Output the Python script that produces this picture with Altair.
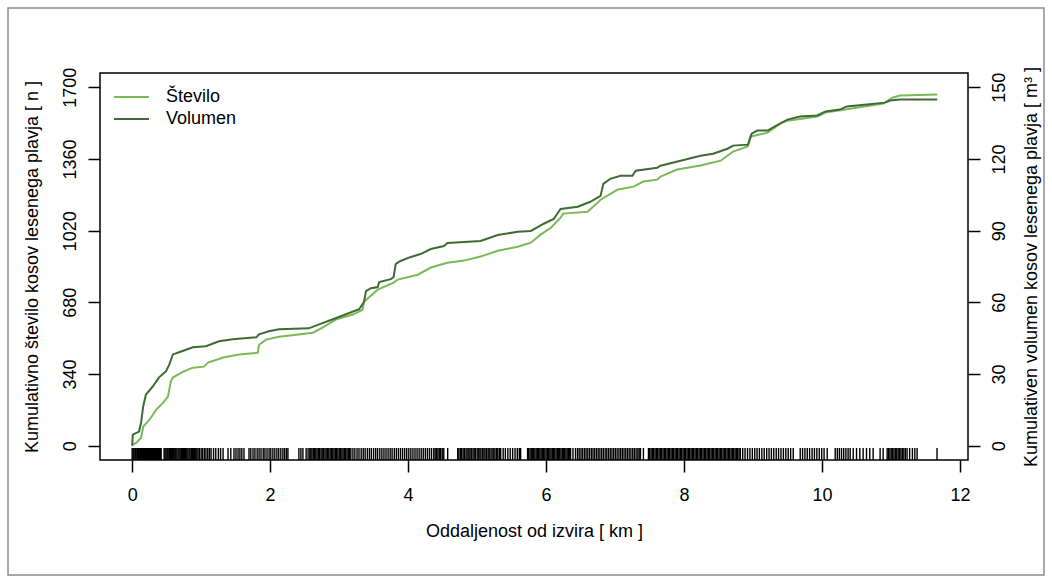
import altair as alt
import pandas as pd

# ---- data ----
# cumulative number of pieces (Število) vs distance [km]
dist_n = [0.00, 0.01, 0.06, 0.13, 0.16, 0.25, 0.35, 0.45, 0.52, 0.56, 0.59, 0.74, 0.88, 1.04, 1.10,
          1.32, 1.55, 1.82, 1.84, 1.94, 2.13, 2.62, 2.76, 2.95, 3.20, 3.34, 3.36, 3.56, 3.79, 3.85,
          4.14, 4.33, 4.57, 4.81, 5.05, 5.30, 5.59, 5.78, 5.92, 6.07, 6.21, 6.25, 6.60, 6.75, 6.79,
          7.04, 7.27, 7.41, 7.61, 7.66, 7.90, 8.24, 8.53, 8.71, 8.92, 8.96, 9.21, 9.42, 9.50, 9.93,
          10.05, 10.89, 11.02, 11.13, 11.67]
count_n = [0, 5, 14, 38, 90, 123, 171, 204, 233, 304, 323, 351, 370, 375, 394,
           418, 432, 441, 479, 503, 517, 536, 560, 598, 622, 645, 683, 740, 773, 788,
           811, 845, 868, 878, 897, 925, 944, 963, 1001, 1034, 1082, 1101, 1110, 1153, 1167,
           1215, 1229, 1253, 1262, 1276, 1310, 1329, 1352, 1395, 1419, 1466, 1485, 1533, 1542, 1561,
           1580, 1623, 1651, 1661, 1666]

# cumulative volume (Volumen) vs distance [km]
dist_v = [0.00, 0.01, 0.10, 0.13, 0.16, 0.20, 0.30, 0.39, 0.49, 0.54, 0.59, 0.68, 0.88, 1.07, 1.26,
          1.46, 1.80, 1.84, 1.98, 2.13, 2.56, 2.71, 2.91, 3.10, 3.29, 3.36, 3.39, 3.46, 3.56, 3.58,
          3.75, 3.79, 3.82, 3.89, 4.04, 4.18, 4.33, 4.52, 4.57, 4.81, 5.05, 5.30, 5.59, 5.78, 5.96,
          6.11, 6.21, 6.46, 6.64, 6.79, 6.83, 6.93, 7.08, 7.25, 7.30, 7.61, 7.66, 7.95, 8.24, 8.42,
          8.63, 8.71, 8.93, 8.98, 9.06, 9.21, 9.39, 9.50, 9.68, 9.93, 10.05, 10.26, 10.36, 10.65, 10.91,
          10.99, 11.13, 11.67]
volume_v = [0.0, 4.6, 5.9, 9.7, 16.4, 21.4, 24.8, 28.6, 31.1, 34.0, 38.2, 39.1, 41.2, 41.6, 43.7,
            44.5, 45.4, 46.6, 47.9, 48.7, 49.1, 50.8, 52.9, 55.0, 57.1, 60.1, 64.7, 65.9, 66.4, 68.5,
            69.7, 70.6, 76.0, 77.3, 79.0, 80.2, 82.3, 83.6, 84.8, 85.3, 85.7, 88.2, 89.5, 89.9, 92.8,
            94.9, 99.1, 100.0, 102.1, 104.6, 109.6, 111.7, 113.0, 113.0, 115.1, 116.3, 117.2, 119.3, 121.4, 122.2,
            124.3, 125.6, 126.0, 130.6, 131.9, 131.9, 134.8, 136.5, 137.8, 138.2, 139.9, 140.7, 142.0, 142.8, 143.6,
            144.5, 144.9, 144.9]

# positions of individual pieces along the stream (rug) [m]
rug_m = [
    0, 12, 25, 40, 52, 68, 80, 95, 110, 122, 138, 150, 166, 180, 195, 208, 222, 238, 250, 266, 280,
    295, 310, 324, 338, 352, 368, 382, 396, 410, 420,
    463, 478, 492, 508, 522, 540, 555, 570, 586, 600, 618, 632, 648, 665, 680, 696, 712, 728, 745,
    760, 776, 792, 808, 825, 840, 858, 872, 890, 905, 922, 938, 955,
    975, 1000, 1022, 1048, 1070, 1096, 1120, 1144,
    1180, 1212, 1250, 1282, 1318,
    1390, 1430, 1476,
    1505, 1535, 1562, 1590, 1621,
    1694, 1720, 1752, 1780, 1812, 1840, 1868, 1900, 1925, 1955, 1985, 2010, 2040, 2068, 2098, 2125,
    2155, 2185, 2210, 2236, 2258,
    2417, 2446, 2475, 2522, 2550, 2575, 2590,
    2606, 2625, 2642, 2662, 2680, 2700, 2718, 2738, 2755, 2775, 2795, 2812, 2832, 2850, 2870, 2888,
    2908, 2926, 2945, 2965, 2982, 3002, 3020, 3040, 3058, 3078, 3096, 3115, 3135, 3152, 3170,
    3200, 3228, 3260, 3288, 3320, 3350, 3378, 3410, 3440, 3468, 3500, 3530, 3558, 3590, 3620, 3650,
    3680, 3710, 3740, 3768, 3800, 3830, 3860, 3890, 3920, 3950, 3980, 4010, 4040, 4070, 4100, 4130,
    4160, 4190, 4220, 4250, 4280, 4310, 4340, 4372,
    4392, 4412, 4432, 4452, 4472, 4495, 4517,
    4574,
    4719, 4736, 4758, 4775, 4797, 4815, 4839, 4856, 4880, 4897, 4916, 4940, 4958, 4976, 5001, 5017,
    5040, 5056, 5079, 5099, 5116, 5139, 5160, 5176, 5201, 5218, 5242, 5259, 5282, 5300, 5322, 5342,
    5378, 5410, 5446, 5480, 5515, 5550, 5583, 5612, 5631,
    5732, 5748, 5768, 5785, 5802, 5821, 5838, 5856, 5874, 5892, 5910, 5928, 5945, 5964, 5982, 6000,
    6018, 6036, 6055, 6072, 6090, 6108, 6126, 6145, 6163, 6180, 6198, 6216, 6235, 6252, 6270, 6288,
    6306, 6325, 6340, 6355,
    6390, 6427,
    6456, 6480, 6506, 6530, 6556, 6580, 6605, 6630, 6656, 6680, 6704, 6730, 6755, 6780, 6805, 6830,
    6856, 6880, 6905, 6930, 6955, 6980, 7005, 7030, 7056, 7080, 7105, 7130, 7155, 7180, 7205, 7230,
    7256, 7280, 7305, 7330, 7350, 7368,
    7411,
    7484, 7502, 7522, 7540, 7560, 7580, 7598, 7618, 7638, 7656, 7676, 7696, 7715, 7734, 7754, 7772,
    7792, 7812, 7830, 7850, 7870, 7888, 7908, 7928, 7946, 7966, 7986, 8005, 8024, 8044, 8062, 8082,
    8102, 8120, 8140, 8160, 8178, 8198, 8218, 8236, 8256, 8276, 8295, 8314, 8334, 8352, 8372, 8392,
    8410, 8430, 8450, 8468, 8488, 8508, 8526, 8546, 8566, 8585, 8604, 8624, 8642, 8662, 8682, 8700,
    8720, 8740, 8758, 8778, 8798, 8816,
    8850, 8884, 8920, 8955, 8990, 9025, 9058, 9092, 9128, 9162, 9198, 9232, 9266, 9300, 9336, 9370,
    9405, 9440, 9475, 9510, 9545, 9583,
    9684, 9718, 9752, 9786, 9820, 9856, 9890, 9925, 9960, 9995, 10030, 10075,
    10191, 10222, 10252, 10283, 10314, 10346, 10378, 10408,
    10452, 10500, 10548, 10596, 10645, 10692, 10741,
    10842, 10886,
    10944, 10963, 10984, 11003, 11024, 11043, 11064, 11083, 11104, 11124, 11144, 11165, 11186, 11208, 11233,
    11270, 11310, 11345, 11378,
    11667,
]

series_names = ["Število", "Volumen"]
series_colors = ["#79b956", "#3e6b34"]
x_ticks = [0, 2, 4, 6, 8, 10, 12]
n_ticks = [0, 340, 680, 1020, 1360, 1700]
v_ticks = [0, 30, 60, 90, 120, 150]

df_n = pd.DataFrame({"km": dist_n, "val": count_n, "serija": series_names[0]})
df_v = pd.DataFrame({"km": dist_v, "val": volume_v, "serija": series_names[1]})
df_rug = pd.DataFrame({"km": [m / 1000.0 for m in rug_m]})

FONT = "Liberation Sans"
FS = 18

xscale = alt.Scale(domain=[-0.466, 12.116], nice=False, zero=False)
color_scale = alt.Scale(domain=series_names, range=series_colors)

xaxis = alt.Axis(values=x_ticks, title="Oddaljenost od izvira [ km ]", grid=False, domain=False,
                 tickSize=12, tickWidth=1.5, tickColor="black",
                 labelFont=FONT, labelFontSize=FS, labelColor="black",
                 labelBaseline="alphabetic", labelAlign="center", labelPadding=28.5,
                 labelFlush=False, labelOverlap=False, format="d",
                 titleFont=FONT, titleFontSize=FS, titleFontWeight="normal", titleColor="black",
                 titleX=434, titleY=76.5, titleBaseline="alphabetic", titleAlign="center")

left_axis = alt.Axis(values=n_ticks, orient="left", title="Kumulativno število kosov lesenega plavja [ n ]",
                     grid=False, domain=False, tickSize=12, tickWidth=1.5, tickColor="black",
                     labelFont=FONT, labelFontSize=FS, labelColor="black", labelAngle=270,
                     labelAlign="center", labelBaseline="alphabetic", labelPadding=13,
                     labelFlush=False, labelOverlap=False, format="d",
                     titleFont=FONT, titleFontSize=FS, titleFontWeight="normal", titleColor="black",
                     titleAngle=270, titleX=-63, titleY=193.5, titleBaseline="alphabetic", titleAlign="center")

right_axis = alt.Axis(values=v_ticks, orient="right", title="Kumulativen volumen kosov lesenega plavja [ m³ ]",
                      grid=False, domain=False, tickSize=12, tickWidth=1.5, tickColor="black",
                      labelFont=FONT, labelFontSize=FS, labelColor="black", labelAngle=270,
                      labelAlign="center", labelBaseline="alphabetic", labelPadding=24,
                      labelFlush=False, labelOverlap=False, format="d",
                      titleFont=FONT, titleFontSize=FS, titleFontWeight="normal", titleColor="black",
                      titleAngle=270, titleX=68, titleY=193.5, titleBaseline="alphabetic", titleAlign="center")

legend = alt.Legend(orient="none", legendX=13, legendY=13, symbolType="stroke", symbolSize=1225,
                    symbolStrokeWidth=2, labelFont=FONT, labelFontSize=FS, labelColor="black",
                    labelOffset=16, clipHeight=22, rowPadding=0, padding=0)

frame = alt.Chart(pd.DataFrame({"k": [0]})).mark_rect(filled=False, stroke="#8c8c8c", strokeWidth=1.5).encode(
    x=alt.value(-92), x2=alt.value(944), y=alt.value(-65), y2=alt.value(502))

rug = alt.Chart(df_rug).mark_rule(color="black", strokeWidth=1.4).encode(
    x=alt.X("km:Q", scale=xscale, axis=xaxis),
    y=alt.value(375), y2=alt.value(387))

line_n = alt.Chart(df_n).mark_line(interpolate="linear", strokeWidth=2).encode(
    x=alt.X("km:Q", scale=xscale, axis=xaxis),
    y=alt.Y("val:Q", scale=alt.Scale(domain=[-68, 1768], nice=False, zero=False), axis=left_axis),
    color=alt.Color("serija:N", scale=color_scale, legend=legend, title=None))

line_v = alt.Chart(df_v).mark_line(interpolate="linear", strokeWidth=2).encode(
    x=alt.X("km:Q", scale=xscale, axis=xaxis),
    y=alt.Y("val:Q", scale=alt.Scale(domain=[-6, 156], nice=False, zero=False), axis=right_axis),
    color=alt.Color("serija:N", scale=color_scale, legend=legend, title=None))

chart = alt.layer(frame, rug, line_n, line_v).resolve_scale(y="independent").properties(
    width=868, height=387,
    autosize=alt.AutoSizeParams(type="none"),
    padding={"left": 100, "top": 73, "right": 84, "bottom": 123},
    background="white",
).configure_view(stroke="black", strokeWidth=1.5)

chart.save("out.html", embed_options={"renderer": "svg", "actions": False})
